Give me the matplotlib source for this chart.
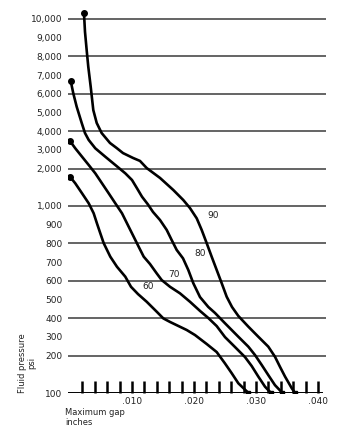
import numpy as np
import matplotlib
matplotlib.use("Agg")
import matplotlib.pyplot as plt

# fluid pressure (psi) vs maximum gap (inches), one curve per durometer
gap_60 = [0.0, 0.00085, 0.00194, 0.00302, 0.00382, 0.00435, 0.00489, 0.00544, 0.0065, 0.00758,
          0.00892, 0.00984, 0.01097, 0.01237, 0.01398, 0.01505, 0.01613, 0.01882, 0.02016, 0.02205,
          0.02366, 0.025, 0.02608, 0.02715, 0.02879]
psi_60 = [1783, 1607, 1340, 1072, 961, 907, 854, 801, 729, 675,
          622, 568, 529, 488, 435, 399, 380, 337, 310, 262,
          219, 179, 153, 126, 100]

gap_70 = [0.0, 0.00085, 0.00194, 0.00302, 0.00408, 0.00516, 0.00624, 0.00731, 0.00839, 0.00947,
          0.01027, 0.01108, 0.01189, 0.0129, 0.01398, 0.01479, 0.01613, 0.01774, 0.01935, 0.02097,
          0.02231, 0.02366, 0.025, 0.02661, 0.02823, 0.02931, 0.03037, 0.03145, 0.03242]
psi_70 = [3476, 3086, 2636, 2192, 1874, 1607, 1340, 1072, 961, 889,
          836, 782, 729, 690, 640, 604, 568, 533, 488, 439,
          401, 358, 299, 246, 196, 172, 144, 117, 100]

gap_80 = [0.00011, 0.00053, 0.00108, 0.00189, 0.00242, 0.00302, 0.00408, 0.00569, 0.00731, 0.00892,
          0.01, 0.01081, 0.01161, 0.01258, 0.01339, 0.01452, 0.0156, 0.0164, 0.01721, 0.01823,
          0.01908, 0.01989, 0.02097, 0.02231, 0.02339, 0.025, 0.02715, 0.02876, 0.02984, 0.03092,
          0.03198, 0.03306, 0.03427]
psi_80 = [6700, 6030, 5310, 4440, 3900, 3530, 3086, 2636, 2192, 1874,
          1695, 1473, 1249, 1040, 968, 925, 872, 818, 765, 720,
          658, 587, 513, 460, 428, 373, 301, 248, 203, 175,
          148, 121, 100]

gap_90 = [0.00226, 0.00242, 0.00269, 0.00295, 0.00334, 0.00376, 0.00431, 0.00511, 0.00645, 0.00753,
          0.00855, 0.01016, 0.01129, 0.01237, 0.01452, 0.01666, 0.01827, 0.01935, 0.02044, 0.02124,
          0.02205, 0.02285, 0.02366, 0.02447, 0.02527, 0.02613, 0.02715, 0.02876, 0.03037, 0.03198,
          0.03306, 0.03387, 0.03468, 0.03576, 0.03629]
psi_90 = [10300, 9320, 8340, 7450, 6380, 5130, 4440, 3900, 3370, 3100,
          2830, 2570, 2410, 2030, 1750, 1428, 1160, 989, 934, 872,
          801, 729, 658, 587, 515, 460, 412, 355, 301, 248,
          197, 170, 144, 113, 100]

curves = [("60", gap_60, psi_60), ("70", gap_70, psi_70),
          ("80", gap_80, psi_80), ("90", gap_90, psi_90)]

y_ticks = [10000, 9000, 8000, 7000, 6000, 5000, 4000, 3000, 2000,
           1000, 900, 800, 700, 600, 500, 400, 300, 200, 100]
grid_vals = [10000, 8000, 6000, 4000, 2000, 1000, 800, 600, 400, 200]
x_major = [0.010, 0.020, 0.030, 0.040]
x_major_labels = [".010", ".020", ".030", ".040"]

# the printed chart spaces these pressures evenly
knot_v = np.array([100, 200, 400, 600, 800, 1000, 2000, 4000, 6000, 8000, 10000], float)
knot_h = np.arange(len(knot_v), dtype=float)


def fwd(v):
    v = np.asarray(v, float)
    h = np.interp(v, knot_v, knot_h)
    h = np.where(v > 10000, 10 + (v - 10000) / 2000, h)
    h = np.where(v < 100, (v - 100) / 100, h)
    return h


def inv(h):
    h = np.asarray(h, float)
    v = np.interp(h, knot_h, knot_v)
    v = np.where(h > 10, 10000 + (h - 10) * 2000, v)
    v = np.where(h < 0, 100 + h * 100, v)
    return v


W, H = 353, 448
fig = plt.figure(figsize=(W / 100, H / 100), dpi=100)
ax = fig.add_axes([68 / W, 55 / H, 258 / W, 385 / H])
ax.set_yscale("function", functions=(fwd, inv))
ax.set_ylim(100, 10588)
ax.set_xlim(-0.00032, 0.04129)

for s in ax.spines.values():
    s.set_visible(False)

for v in grid_vals:
    ax.axhline(v, color="#4a4a4a", lw=1.2, zorder=1)
ax.axhline(100, xmax=0.985, color="black", lw=1.4, zorder=1)

for name, g, p in curves:
    ax.plot(g, p, color="black", lw=1.9, solid_capstyle="round",
            solid_joinstyle="round", zorder=3)
    ax.plot(g[0], p[0], "o", color="black", ms=4, zorder=4)
    ax.plot(g[-1], p[-1], "s", color="black", ms=3.5, zorder=4)

# curve labels
ax.text(0.0222, 948, "90", fontsize=6.5, color="#222222", va="center")
ax.text(0.0201, 748, "80", fontsize=6.5, color="#222222", va="center")
ax.text(0.0159, 634, "70", fontsize=6.5, color="#222222", va="center")
ax.text(0.0116, 568, "60", fontsize=6.5, color="#222222", va="center")

tick_pos = [0.002 * i for i in range(1, 21)]
tick_lab = [""] * len(tick_pos)
for xm, lab in zip(x_major, x_major_labels):
    tick_lab[int(round(xm / 0.002)) - 1] = lab
ax.set_xticks(tick_pos, labels=tick_lab)
ax.tick_params(axis="x", direction="in", length=9, width=1.8, color="black",
               pad=3, labelsize=6.5, labelcolor="#222222")

ax.set_yticks(y_ticks, labels=[f"{v:,}" for v in y_ticks])
ax.tick_params(axis="y", length=0, pad=4, labelsize=6.5, labelcolor="#222222")

fig.text(27 / W, 1 - 393 / H, "Fluid pressure\npsi", rotation=90, ha="center",
         va="bottom", fontsize=6, color="#222222", linespacing=1.1)
fig.text(65 / W, 1 - 408 / H, "Maximum gap\ninches", ha="left", va="top",
         fontsize=6, color="#222222", linespacing=1.1)

fig.savefig("out.png", dpi=100, facecolor="white")
